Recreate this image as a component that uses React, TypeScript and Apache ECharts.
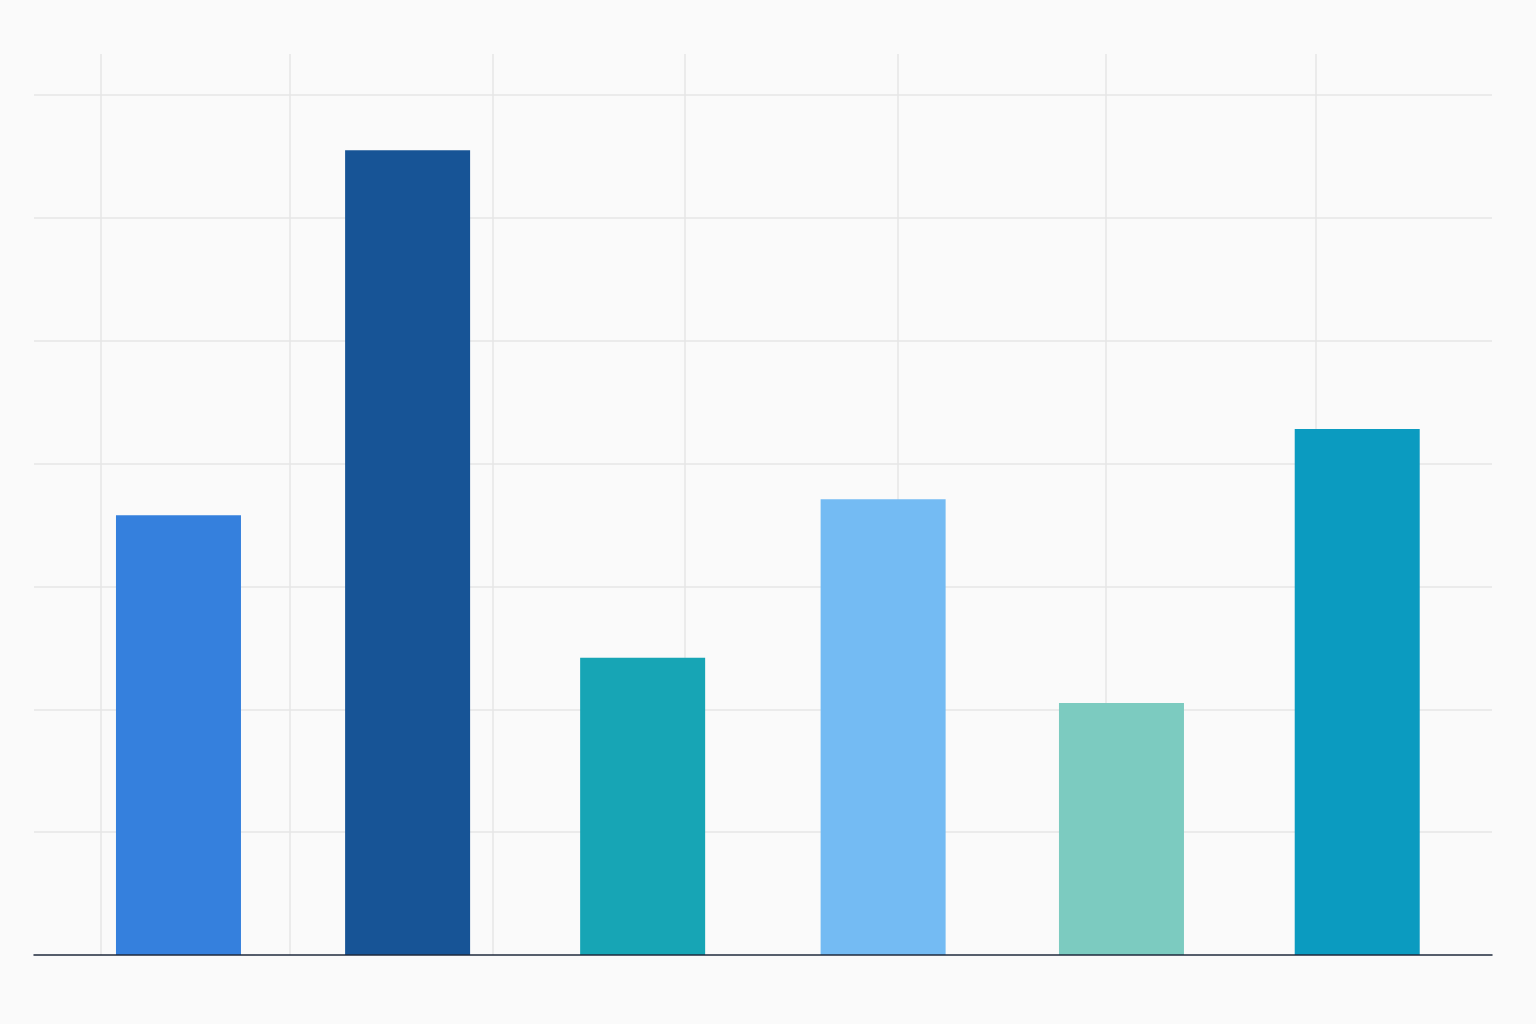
import { useEffect, useRef } from 'react'
import * as echarts from 'echarts'

// Six unlabeled columns
const categories = ['A', 'B', 'C', 'D', 'E', 'F']
const xPositions = [0.019, 0.988, 1.982, 2.999, 4.007, 5.004]
const values = [35.8, 65.5, 24.2, 37.1, 20.5, 42.8]
const barColors = ['#3580dd', '#175496', '#17a5b5', '#74bbf3', '#7ccbc0', '#0b9bc0']

// Vertical guide lines sit at irregular spots, in category-index units
const verticalGuides = [-0.31, 0.492, 1.35, 2.164, 3.062, 3.941, 4.828]

const Y_MAX = 73.33
const Y_STEP = 10

const App: React.FC = () => {
  const chartRef = useRef<HTMLDivElement | null>(null)

  useEffect(() => {
    if (!chartRef.current) return
    const chart = echarts.init(chartRef.current, null, { renderer: 'svg' })

    const option: echarts.EChartsOption = {
      backgroundColor: '#fafafa',
      animation: false,
      grid: { left: 34, right: 44, top: 54, bottom: 69, containLabel: false },
      xAxis: {
        type: 'value',
        min: -0.592,
        max: 5.574,
        z: 4,
        axisLine: { show: true, onZero: true, lineStyle: { color: '#1f2a3c', width: 1.5 } },
        axisTick: { show: false },
        axisLabel: { show: false },
        splitLine: { show: false },
      },
      yAxis: {
        type: 'value',
        min: 0,
        max: Y_MAX,
        interval: Y_STEP,
        axisLine: { show: false },
        axisTick: { show: false },
        axisLabel: { show: false },
        splitLine: {
          show: true,
          showMinLine: false,
          showMaxLine: false,
          lineStyle: { color: '#e6e6e6', width: 1.5 },
        },
      },
      series: [
        {
          type: 'scatter',
          data: [],
          z: 0,
          silent: true,
          markLine: {
            z: 0,
            silent: true,
            symbol: 'none',
            label: { show: false },
            lineStyle: { color: '#e6e6e6', width: 1.5, type: 'solid' },
            data: verticalGuides.map(v => ({ xAxis: v })),
          },
        },
        {
          type: 'bar',
          z: 3,
          barWidth: 125,
          data: categories.map((name, i) => ({
            name,
            value: [xPositions[i], values[i]],
            itemStyle: { color: barColors[i] },
          })),
        },
      ],
    }

    chart.setOption(option)

    const handleResize = () => chart.resize()
    window.addEventListener('resize', handleResize)
    return () => {
      window.removeEventListener('resize', handleResize)
      chart.dispose()
    }
  }, [])

  return (
    <div
      ref={chartRef}
      style={{ position: 'absolute', left: 0, top: 0, width: 1536, height: 1024 }}
    />
  )
}

export default App
